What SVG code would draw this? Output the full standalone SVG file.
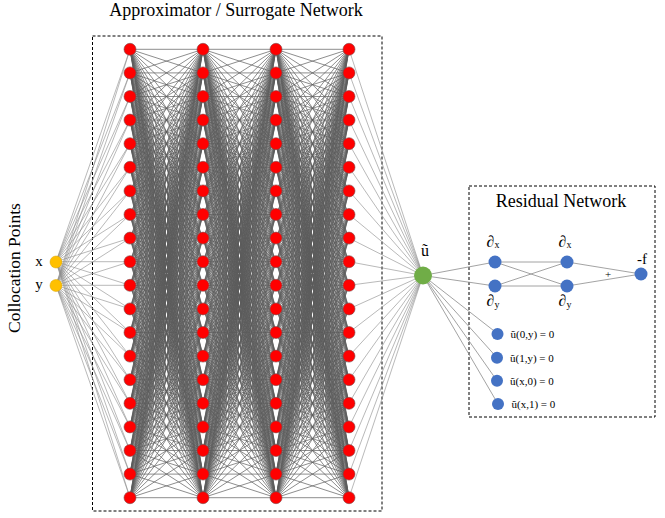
<svg xmlns="http://www.w3.org/2000/svg" xmlns:xlink="http://www.w3.org/1999/xlink" width="665" height="518" viewBox="0 0 665 518">
<style>
.ln{fill:none;stroke:#8a8a8a;stroke-width:0.6;stroke-linejoin:round;vector-effect:non-scaling-stroke}
.mesh{fill:none;stroke:#5c5c5c;stroke-width:0.7;stroke-linejoin:round;vector-effect:non-scaling-stroke}
.ln2{fill:none;stroke:#8c8c8c;stroke-width:0.8}
.red{fill:#ff0000;stroke:#7a4a4a;stroke-width:0.6}
.yel{fill:#ffc000;stroke:#d9a300;stroke-width:0.5}
.grn{fill:#70ad47}
.blu{fill:#4472c4}
.box{fill:none;stroke:#000;stroke-width:1;stroke-dasharray:3 2}
.t{font-family:"Liberation Serif","Times New Roman",serif;fill:#000}
</style>
<defs>
<path id="mesh" class="mesh" d="M0 0L1 1 0 1 1 2 0 2 1 3 0 3 1 4 0 4 1 5 0 5 1 6 0 6 1 7 0 7 1 8 0 8 1 9 0 9 1 10 0 10 1 11 0 11 1 12 0 12 1 13 0 13 1 14 0 14 1 15 0 15 1 16 0 16 1 17 0 17 1 18 0 18 1 19 0 19 1 0 0 0 1 3 0 1 1 4 0 2 1 5 0 3 1 6 0 4 1 7 0 5 1 8 0 6 1 9 0 7 1 10 0 8 1 11 0 9 1 12 0 10 1 13 0 11 1 14 0 12 1 15 0 13 1 16 0 14 1 17 0 15 1 18 0 16 1 19 0 17 1 0 0 18 1 1 0 19 1 2 0 0 1 5 0 1 1 6 0 2 1 7 0 3 1 8 0 4 1 9 0 5 1 10 0 6 1 11 0 7 1 12 0 8 1 13 0 9 1 14 0 10 1 15 0 11 1 16 0 12 1 17 0 13 1 18 0 14 1 19 0 15 1 0 0 16 1 1 0 17 1 2 0 18 1 3 0 19 1 4 0 0 1 7 0 1 1 8 0 2 1 9 0 3 1 10 0 4 1 11 0 5 1 12 0 6 1 13 0 7 1 14 0 8 1 15 0 9 1 16 0 10 1 17 0 11 1 18 0 12 1 19 0 13 1 0 0 14 1 1 0 15 1 2 0 16 1 3 0 17 1 4 0 18 1 5 0 19 1 6 0 0 1 9 0 1 1 10 0 2 1 11 0 3 1 12 0 4 1 13 0 5 1 14 0 6 1 15 0 7 1 16 0 8 1 17 0 9 1 18 0 10 1 19 0 11 1 0 0 12 1 1 0 13 1 2 0 14 1 3 0 15 1 4 0 16 1 5 0 17 1 6 0 18 1 7 0 19 1 8 0 0 1 11 0 1 1 12 0 2 1 13 0 3 1 14 0 4 1 15 0 5 1 16 0 6 1 17 0 7 1 18 0 8 1 19 0 9 1 0 0 10 1 1 0 11 1 2 0 12 1 3 0 13 1 4 0 14 1 5 0 15 1 6 0 16 1 7 0 17 1 8 0 18 1 9 0 19 1 10 0 0 1 13 0 1 1 14 0 2 1 15 0 3 1 16 0 4 1 17 0 5 1 18 0 6 1 19 0 7 1 0 0 8 1 1 0 9 1 2 0 10 1 3 0 11 1 4 0 12 1 5 0 13 1 6 0 14 1 7 0 15 1 8 0 16 1 9 0 17 1 10 0 18 1 11 0 19 1 12 0 0 1 15 0 1 1 16 0 2 1 17 0 3 1 18 0 4 1 19 0 5 1 0 0 6 1 1 0 7 1 2 0 8 1 3 0 9 1 4 0 10 1 5 0 11 1 6 0 12 1 7 0 13 1 8 0 14 1 9 0 15 1 10 0 16 1 11 0 17 1 12 0 18 1 13 0 19 1 14 0 0 1 17 0 1 1 18 0 2 1 19 0 3 1 0 0 4 1 1 0 5 1 2 0 6 1 3 0 7 1 4 0 8 1 5 0 9 1 6 0 10 1 7 0 11 1 8 0 12 1 9 0 13 1 10 0 14 1 11 0 15 1 12 0 16 1 13 0 17 1 14 0 18 1 15 0 19 1 16 0 0 1 19 0 1 1 0 0 2 1 1 0 3 1 2 0 4 1 3 0 5 1 4 0 6 1 5 0 7 1 6 0 8 1 7 0 9 1 8 0 10 1 9 0 11 1 10 0 12 1 11 0 13 1 12 0 14 1 13 0 15 1 14 0 16 1 15 0 17 1 16 0 18 1 17 0 19 1 18 0 0"/>
<circle id="rn" r="6" class="red"/>
</defs>

<rect class="box" x="92.5" y="36" width="289.5" height="475"/>
<rect class="box" x="469" y="186" width="186" height="231"/>

<g id="connectors">
<path class="ln" transform="translate(56,49.3) scale(74,23.6)" d="M0 9L1 0 0 10 1 1 0 9 1 2 0 10 1 3 0 9 1 4 0 10 1 5 0 9 1 6 0 10 1 7 0 9 1 8 0 10 1 9 0 9 1 10 0 10 1 11 0 9 1 12 0 10 1 13 0 9 1 14 0 10 1 15 0 9 1 16 0 10 1 17 0 9 1 18 0 10 1 19 0 9"/>
<use xlink:href="#mesh" href="#mesh" transform="translate(130,49.3) scale(73,23.6)"/>
<use xlink:href="#mesh" href="#mesh" transform="translate(203,49.3) scale(73,23.6)"/>
<use xlink:href="#mesh" href="#mesh" transform="translate(276,49.3) scale(73,23.6)"/>
<path class="ln" transform="translate(349,49.3) scale(74,23.6)" d="M0 0L1 9.585 0 1M0 2L1 9.585 0 3M0 4L1 9.585 0 5M0 6L1 9.585 0 7M0 8L1 9.585 0 9M0 10L1 9.585 0 11M0 12L1 9.585 0 13M0 14L1 9.585 0 15M0 16L1 9.585 0 17M0 18L1 9.585 0 19"/>
<path class="ln2" d="M423 275.5L495 262M423 275.5L495 286M423 275.5L498 334M423 275.5L497 357.7M423 275.5L497 380.7M423 275.5L498 404M495 262L567 262M495 262L567 286M495 286L567 262M495 286L567 286M567 262L641 274M567 286L641 274"/>
</g>

<g id="input-x"><circle class="yel" cx="56" cy="262" r="6"/></g>
<g id="input-y"><circle class="yel" cx="56" cy="285.5" r="6"/></g>

<g id="layer1">
<use href="#rn" xlink:href="#rn" x="130" y="49.3"/><use href="#rn" xlink:href="#rn" x="130" y="72.9"/><use href="#rn" xlink:href="#rn" x="130" y="96.5"/><use href="#rn" xlink:href="#rn" x="130" y="120.1"/><use href="#rn" xlink:href="#rn" x="130" y="143.7"/><use href="#rn" xlink:href="#rn" x="130" y="167.3"/><use href="#rn" xlink:href="#rn" x="130" y="190.9"/><use href="#rn" xlink:href="#rn" x="130" y="214.5"/><use href="#rn" xlink:href="#rn" x="130" y="238.1"/><use href="#rn" xlink:href="#rn" x="130" y="261.7"/><use href="#rn" xlink:href="#rn" x="130" y="285.3"/><use href="#rn" xlink:href="#rn" x="130" y="308.9"/><use href="#rn" xlink:href="#rn" x="130" y="332.5"/><use href="#rn" xlink:href="#rn" x="130" y="356.1"/><use href="#rn" xlink:href="#rn" x="130" y="379.7"/><use href="#rn" xlink:href="#rn" x="130" y="403.3"/><use href="#rn" xlink:href="#rn" x="130" y="426.9"/><use href="#rn" xlink:href="#rn" x="130" y="450.5"/><use href="#rn" xlink:href="#rn" x="130" y="474.1"/><use href="#rn" xlink:href="#rn" x="130" y="497.7"/>
</g>
<g id="layer2">
<use href="#rn" xlink:href="#rn" x="203" y="49.3"/><use href="#rn" xlink:href="#rn" x="203" y="72.9"/><use href="#rn" xlink:href="#rn" x="203" y="96.5"/><use href="#rn" xlink:href="#rn" x="203" y="120.1"/><use href="#rn" xlink:href="#rn" x="203" y="143.7"/><use href="#rn" xlink:href="#rn" x="203" y="167.3"/><use href="#rn" xlink:href="#rn" x="203" y="190.9"/><use href="#rn" xlink:href="#rn" x="203" y="214.5"/><use href="#rn" xlink:href="#rn" x="203" y="238.1"/><use href="#rn" xlink:href="#rn" x="203" y="261.7"/><use href="#rn" xlink:href="#rn" x="203" y="285.3"/><use href="#rn" xlink:href="#rn" x="203" y="308.9"/><use href="#rn" xlink:href="#rn" x="203" y="332.5"/><use href="#rn" xlink:href="#rn" x="203" y="356.1"/><use href="#rn" xlink:href="#rn" x="203" y="379.7"/><use href="#rn" xlink:href="#rn" x="203" y="403.3"/><use href="#rn" xlink:href="#rn" x="203" y="426.9"/><use href="#rn" xlink:href="#rn" x="203" y="450.5"/><use href="#rn" xlink:href="#rn" x="203" y="474.1"/><use href="#rn" xlink:href="#rn" x="203" y="497.7"/>
</g>
<g id="layer3">
<use href="#rn" xlink:href="#rn" x="276" y="49.3"/><use href="#rn" xlink:href="#rn" x="276" y="72.9"/><use href="#rn" xlink:href="#rn" x="276" y="96.5"/><use href="#rn" xlink:href="#rn" x="276" y="120.1"/><use href="#rn" xlink:href="#rn" x="276" y="143.7"/><use href="#rn" xlink:href="#rn" x="276" y="167.3"/><use href="#rn" xlink:href="#rn" x="276" y="190.9"/><use href="#rn" xlink:href="#rn" x="276" y="214.5"/><use href="#rn" xlink:href="#rn" x="276" y="238.1"/><use href="#rn" xlink:href="#rn" x="276" y="261.7"/><use href="#rn" xlink:href="#rn" x="276" y="285.3"/><use href="#rn" xlink:href="#rn" x="276" y="308.9"/><use href="#rn" xlink:href="#rn" x="276" y="332.5"/><use href="#rn" xlink:href="#rn" x="276" y="356.1"/><use href="#rn" xlink:href="#rn" x="276" y="379.7"/><use href="#rn" xlink:href="#rn" x="276" y="403.3"/><use href="#rn" xlink:href="#rn" x="276" y="426.9"/><use href="#rn" xlink:href="#rn" x="276" y="450.5"/><use href="#rn" xlink:href="#rn" x="276" y="474.1"/><use href="#rn" xlink:href="#rn" x="276" y="497.7"/>
</g>
<g id="layer4">
<use href="#rn" xlink:href="#rn" x="349" y="49.3"/><use href="#rn" xlink:href="#rn" x="349" y="72.9"/><use href="#rn" xlink:href="#rn" x="349" y="96.5"/><use href="#rn" xlink:href="#rn" x="349" y="120.1"/><use href="#rn" xlink:href="#rn" x="349" y="143.7"/><use href="#rn" xlink:href="#rn" x="349" y="167.3"/><use href="#rn" xlink:href="#rn" x="349" y="190.9"/><use href="#rn" xlink:href="#rn" x="349" y="214.5"/><use href="#rn" xlink:href="#rn" x="349" y="238.1"/><use href="#rn" xlink:href="#rn" x="349" y="261.7"/><use href="#rn" xlink:href="#rn" x="349" y="285.3"/><use href="#rn" xlink:href="#rn" x="349" y="308.9"/><use href="#rn" xlink:href="#rn" x="349" y="332.5"/><use href="#rn" xlink:href="#rn" x="349" y="356.1"/><use href="#rn" xlink:href="#rn" x="349" y="379.7"/><use href="#rn" xlink:href="#rn" x="349" y="403.3"/><use href="#rn" xlink:href="#rn" x="349" y="426.9"/><use href="#rn" xlink:href="#rn" x="349" y="450.5"/><use href="#rn" xlink:href="#rn" x="349" y="474.1"/><use href="#rn" xlink:href="#rn" x="349" y="497.7"/>
</g>

<g id="output-u"><circle class="grn" cx="423" cy="275.5" r="9"/><text class="t" x="425" y="256" font-size="16" text-anchor="middle">ũ</text></g>

<g id="dx1"><circle class="blu" cx="495" cy="262" r="6.5"/><text class="t" x="493" y="247" font-size="16" text-anchor="middle">∂<tspan font-size="10" dy="1">x</tspan></text></g>
<g id="dy1"><circle class="blu" cx="495" cy="286" r="6.5"/><text class="t" x="493" y="306" font-size="16" text-anchor="middle">∂<tspan font-size="10" dy="2">y</tspan></text></g>
<g id="dx2"><circle class="blu" cx="567" cy="262" r="6.5"/><text class="t" x="565" y="247" font-size="16" text-anchor="middle">∂<tspan font-size="10" dy="1">x</tspan></text></g>
<g id="dy2"><circle class="blu" cx="567" cy="286" r="6.5"/><text class="t" x="565" y="306" font-size="16" text-anchor="middle">∂<tspan font-size="10" dy="2">y</tspan></text></g>
<g id="f"><circle class="blu" cx="641" cy="274" r="6.5"/><text class="t" x="642" y="264" font-size="15" text-anchor="middle">-f</text></g>
<text class="t" x="608" y="278" font-size="11" text-anchor="middle">+</text>

<g id="bc1"><circle class="blu" cx="497.5" cy="334" r="6"/><text class="t" x="510.5" y="338" font-size="11">ũ(0,y) = 0</text></g>
<g id="bc2"><circle class="blu" cx="497" cy="357.7" r="6"/><text class="t" x="510" y="361.5" font-size="11">ũ(1,y) = 0</text></g>
<g id="bc3"><circle class="blu" cx="497" cy="380.7" r="6"/><text class="t" x="510" y="384.5" font-size="11">ũ(x,0) = 0</text></g>
<g id="bc4"><circle class="blu" cx="498" cy="404" r="6"/><text class="t" x="511.5" y="407.5" font-size="11">ũ(x,1) = 0</text></g>

<text class="t" x="236" y="16" font-size="18" text-anchor="middle">Approximator / Surrogate Network</text>
<text class="t" x="561" y="206.5" font-size="18" text-anchor="middle">Residual Network</text>
<text class="t" transform="translate(20,268) rotate(-90)" font-size="17.5" text-anchor="middle">Collocation Points</text>
<text class="t" x="39" y="266" font-size="15" text-anchor="middle">x</text>
<text class="t" x="39" y="289" font-size="15" text-anchor="middle">y</text>
</svg>
